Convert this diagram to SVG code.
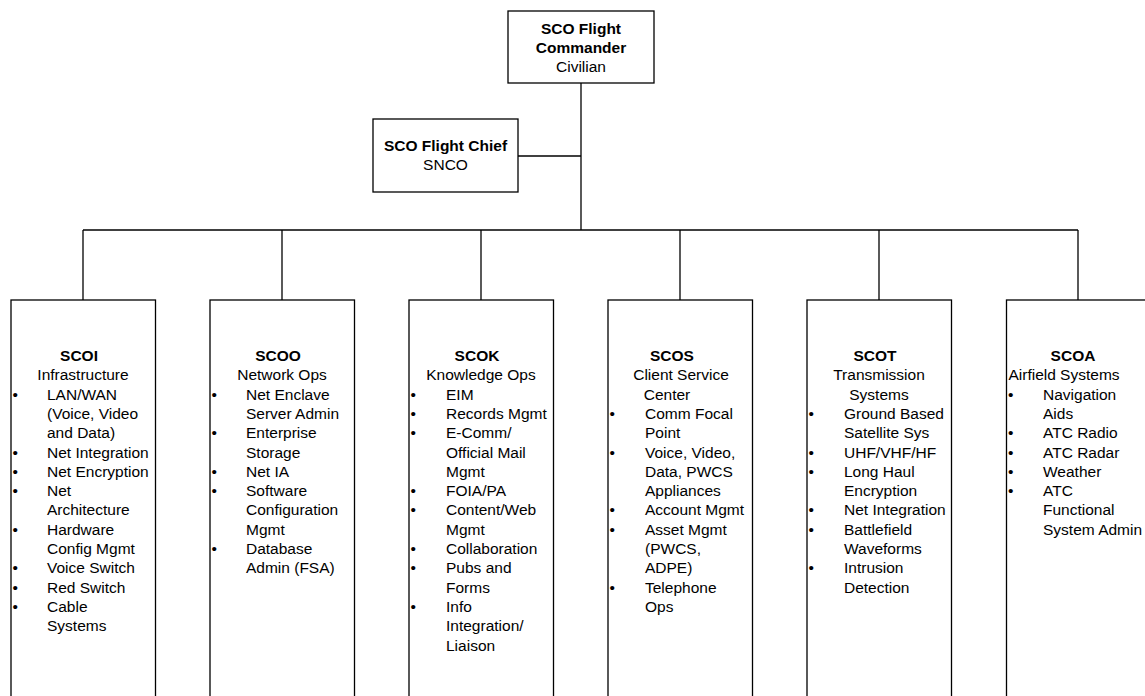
<svg xmlns="http://www.w3.org/2000/svg" width="1145" height="696" viewBox="0 0 1145 696">
  <style>
    .box { fill: #ffffff; stroke: #000000; stroke-width: 1.3; }
    .wire { fill: none; stroke: #000000; stroke-width: 1.3; }
    text { font-family: "Liberation Sans", Arial, sans-serif; font-size: 15.5px; fill: #000000; }
    .b { font-weight: bold; }
    .c { text-anchor: middle; }
  </style>
  <rect width="1145" height="696" fill="#ffffff"/>

  <!-- reporting lines -->
  <g id="connectors">
    <path class="wire" d="M581 83 V230"/>
    <path class="wire" d="M518 156 H581"/>
    <path class="wire" d="M83 230 H1078"/>
    <path class="wire" d="M83 230 V300"/>
    <path class="wire" d="M282 230 V300"/>
    <path class="wire" d="M481 230 V300"/>
    <path class="wire" d="M680 230 V300"/>
    <path class="wire" d="M879 230 V300"/>
    <path class="wire" d="M1078 230 V300"/>
  </g>

  <g id="commander">
    <rect class="box" x="508" y="11" width="146" height="72"/>
    <text class="b c" x="581" y="34">SCO Flight</text>
    <text class="b c" x="581" y="53">Commander</text>
    <text class="c" x="581" y="72">Civilian</text>
  </g>

  <g id="chief">
    <rect class="box" x="373" y="119" width="145" height="73"/>
    <text class="b c" x="445.5" y="151">SCO Flight Chief</text>
    <text class="c" x="445.5" y="170">SNCO</text>
  </g>

  <g id="scoi">
    <rect class="box" x="11" y="300" width="144.5" height="410"/>
    <text class="b c" x="79" y="361">SCOI</text>
    <text class="c" x="83" y="380.3">Infrastructure</text>
    <text x="12.5" y="399.6">•</text><text x="47" y="399.6">LAN/WAN</text>
    <text x="47" y="418.9">(Voice, Video</text>
    <text x="47" y="438.2">and Data)</text>
    <text x="12.5" y="457.5">•</text><text x="47" y="457.5">Net Integration</text>
    <text x="12.5" y="476.8">•</text><text x="47" y="476.8">Net Encryption</text>
    <text x="12.5" y="496.1">•</text><text x="47" y="496.1">Net</text>
    <text x="47" y="515.4">Architecture</text>
    <text x="12.5" y="534.7">•</text><text x="47" y="534.7">Hardware</text>
    <text x="47" y="554">Config Mgmt</text>
    <text x="12.5" y="573.3">•</text><text x="47" y="573.3">Voice Switch</text>
    <text x="12.5" y="592.6">•</text><text x="47" y="592.6">Red Switch</text>
    <text x="12.5" y="611.9">•</text><text x="47" y="611.9">Cable</text>
    <text x="47" y="631.2">Systems</text>
  </g>

  <g id="scoo">
    <rect class="box" x="210" y="300" width="144.5" height="410"/>
    <text class="b c" x="278" y="361">SCOO</text>
    <text class="c" x="282" y="380.3">Network Ops</text>
    <text x="211.5" y="399.6">•</text><text x="246" y="399.6">Net Enclave</text>
    <text x="246" y="418.9">Server Admin</text>
    <text x="211.5" y="438.2">•</text><text x="246" y="438.2">Enterprise</text>
    <text x="246" y="457.5">Storage</text>
    <text x="211.5" y="476.8">•</text><text x="246" y="476.8">Net IA</text>
    <text x="211.5" y="496.1">•</text><text x="246" y="496.1">Software</text>
    <text x="246" y="515.4">Configuration</text>
    <text x="246" y="534.7">Mgmt</text>
    <text x="211.5" y="554">•</text><text x="246" y="554">Database</text>
    <text x="246" y="573.3">Admin (FSA)</text>
  </g>

  <g id="scok">
    <rect class="box" x="409" y="300" width="144.5" height="410"/>
    <text class="b c" x="477" y="361">SCOK</text>
    <text class="c" x="481" y="380.3">Knowledge Ops</text>
    <text x="410.5" y="399.6">•</text><text x="446" y="399.6">EIM</text>
    <text x="410.5" y="418.9">•</text><text x="446" y="418.9">Records Mgmt</text>
    <text x="410.5" y="438.2">•</text><text x="446" y="438.2">E-Comm/</text>
    <text x="446" y="457.5">Official Mail</text>
    <text x="446" y="476.8">Mgmt</text>
    <text x="410.5" y="496.1">•</text><text x="446" y="496.1">FOIA/PA</text>
    <text x="410.5" y="515.4">•</text><text x="446" y="515.4">Content/Web</text>
    <text x="446" y="534.7">Mgmt</text>
    <text x="410.5" y="554">•</text><text x="446" y="554">Collaboration</text>
    <text x="410.5" y="573.3">•</text><text x="446" y="573.3">Pubs and</text>
    <text x="446" y="592.6">Forms</text>
    <text x="410.5" y="611.9">•</text><text x="446" y="611.9">Info</text>
    <text x="446" y="631.2">Integration/</text>
    <text x="446" y="650.5">Liaison</text>
  </g>

  <g id="scos">
    <rect class="box" x="608" y="300" width="144.5" height="410"/>
    <text class="b c" x="672" y="361">SCOS</text>
    <text class="c" x="681" y="380.3">Client Service</text>
    <text class="c" x="667" y="399.6">Center</text>
    <text x="609.5" y="418.9">•</text><text x="645" y="418.9">Comm Focal</text>
    <text x="645" y="438.2">Point</text>
    <text x="609.5" y="457.5">•</text><text x="645" y="457.5">Voice, Video,</text>
    <text x="645" y="476.8">Data, PWCS</text>
    <text x="645" y="496.1">Appliances</text>
    <text x="609.5" y="515.4">•</text><text x="645" y="515.4">Account Mgmt</text>
    <text x="609.5" y="534.7">•</text><text x="645" y="534.7">Asset Mgmt</text>
    <text x="645" y="554">(PWCS,</text>
    <text x="645" y="573.3">ADPE)</text>
    <text x="609.5" y="592.6">•</text><text x="645" y="592.6">Telephone</text>
    <text x="645" y="611.9">Ops</text>
  </g>

  <g id="scot">
    <rect class="box" x="807" y="300" width="144.5" height="410"/>
    <text class="b c" x="875" y="361">SCOT</text>
    <text class="c" x="879" y="380.3">Transmission</text>
    <text class="c" x="879" y="399.6">Systems</text>
    <text x="808.5" y="418.9">•</text><text x="844" y="418.9">Ground Based</text>
    <text x="844" y="438.2">Satellite Sys</text>
    <text x="808.5" y="457.5">•</text><text x="844" y="457.5">UHF/VHF/HF</text>
    <text x="808.5" y="476.8">•</text><text x="844" y="476.8">Long Haul</text>
    <text x="844" y="496.1">Encryption</text>
    <text x="808.5" y="515.4">•</text><text x="844" y="515.4">Net Integration</text>
    <text x="808.5" y="534.7">•</text><text x="844" y="534.7">Battlefield</text>
    <text x="844" y="554">Waveforms</text>
    <text x="808.5" y="573.3">•</text><text x="844" y="573.3">Intrusion</text>
    <text x="844" y="592.6">Detection</text>
  </g>

  <g id="scoa">
    <rect class="box" x="1006.5" y="300" width="144.5" height="410"/>
    <text class="b c" x="1073" y="361">SCOA</text>
    <text class="c" x="1064" y="380.3">Airfield Systems</text>
    <text x="1008" y="399.6">•</text><text x="1043" y="399.6">Navigation</text>
    <text x="1043" y="418.9">Aids</text>
    <text x="1008" y="438.2">•</text><text x="1043" y="438.2">ATC Radio</text>
    <text x="1008" y="457.5">•</text><text x="1043" y="457.5">ATC Radar</text>
    <text x="1008" y="476.8">•</text><text x="1043" y="476.8">Weather</text>
    <text x="1008" y="496.1">•</text><text x="1043" y="496.1">ATC</text>
    <text x="1043" y="515.4">Functional</text>
    <text x="1043" y="534.7">System Admin</text>
  </g>
</svg>
